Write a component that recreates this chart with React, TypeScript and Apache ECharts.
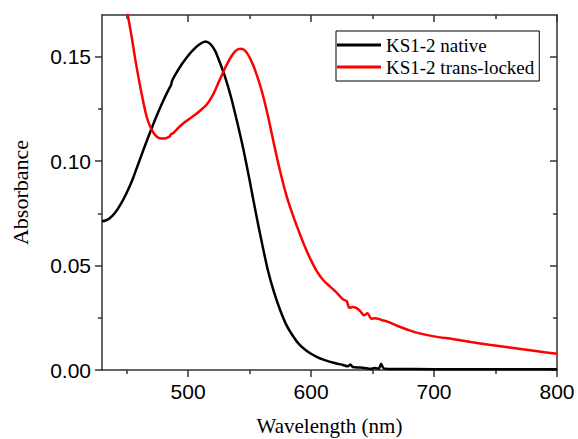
import React, { useEffect, useRef } from "react";
import * as echarts from "echarts";

const nativeX = [430, 433, 436, 440, 445, 450, 455, 460, 465, 470, 475, 480, 485, 486, 487, 490, 495, 500, 505, 510, 514, 518, 522, 526, 530, 535, 540, 545, 550, 555, 560, 565, 570, 575, 580, 585, 590, 595, 600, 605, 610, 620, 626, 630, 632, 634, 640, 645, 648, 652, 655, 657, 659, 665, 700, 800];
const nativeY = [0.0712, 0.0716, 0.0726, 0.0748, 0.0792, 0.0848, 0.0915, 0.0995, 0.1075, 0.1152, 0.1225, 0.1292, 0.1352, 0.1362, 0.1385, 0.1418, 0.1465, 0.1505, 0.1538, 0.1562, 0.1573, 0.1562, 0.1528, 0.147, 0.1405, 0.1305, 0.1185, 0.1056, 0.091, 0.0755, 0.061, 0.0475, 0.037, 0.0285, 0.0215, 0.0165, 0.0125, 0.0098, 0.0078, 0.0062, 0.005, 0.0032, 0.0024, 0.0018, 0.0026, 0.0014, 0.0012, 0.0008, 0.0005, 0.001, 0.0006, 0.003, 0.0008, 0.0005, 0.0004, 0.0003];

const lockedX = [447, 451, 454, 457, 461, 466, 470, 474, 478, 482, 485, 486, 488, 493, 498, 504, 510, 515, 520, 525, 530, 535, 539, 543, 547, 551, 555, 560, 565, 570, 575, 580, 585, 590, 595, 600, 605, 610, 615, 620, 626, 629, 631, 634, 637, 640, 643, 646, 649, 652, 655, 658, 662, 670, 680, 690, 700, 715, 730, 745, 760, 775, 790, 800];
const lockedY = [0.185, 0.17, 0.16, 0.149, 0.136, 0.122, 0.1155, 0.112, 0.1108, 0.111, 0.1118, 0.1128, 0.1135, 0.1165, 0.119, 0.1215, 0.1243, 0.127, 0.1315, 0.138, 0.1445, 0.15, 0.153, 0.1538, 0.1525, 0.1485, 0.1428, 0.1335, 0.1215, 0.1078, 0.0948, 0.0835, 0.0745, 0.0665, 0.059, 0.0525, 0.047, 0.043, 0.0402, 0.0375, 0.0338, 0.033, 0.0298, 0.0302, 0.0296, 0.0282, 0.0262, 0.0272, 0.0245, 0.0248, 0.0245, 0.0238, 0.0232, 0.0212, 0.019, 0.0173, 0.0161, 0.0148, 0.0134, 0.0121, 0.0109, 0.0097, 0.0085, 0.0078];

const xMajor = [500, 600, 700, 800];
const xMinor = [450, 550, 650, 750];
const yMajor = [0, 0.05, 0.1, 0.15];
const yMinor = [0.025, 0.075, 0.125];

const seriesNames = ["KS1-2 native", "KS1-2 trans-locked"];

const SANS = "'Liberation Sans', Arial, sans-serif";
const SERIF = "'Liberation Serif', 'Times New Roman', serif";
const AX = "#333";

function xAx(pos: string, ticks: number[], len: number, inside: boolean, line: boolean, labels: boolean, extra: any = {}) {
  return {
    type: "value",
    position: pos,
    min: 430,
    max: 800,
    axisLine: { show: line, onZero: false, lineStyle: { color: AX, width: 1.5 } },
    axisTick: { show: true, inside, length: len, customValues: ticks, lineStyle: { color: AX, width: 1.5 } },
    axisLabel: labels
      ? { show: true, customValues: ticks, fontSize: 21, color: "#000", fontFamily: SANS, margin: 11 }
      : { show: false },
    splitLine: { show: false },
    ...extra,
  };
}

function yAx(pos: string, ticks: number[], len: number, inside: boolean, line: boolean, labels: boolean, extra: any = {}) {
  return {
    type: "value",
    position: pos,
    min: 0,
    max: 0.17,
    axisLine: { show: line, onZero: false, lineStyle: { color: AX, width: 1.5 } },
    axisTick: { show: true, inside, length: len, customValues: ticks, lineStyle: { color: AX, width: 1.5 } },
    axisLabel: labels
      ? {
          show: true,
          customValues: ticks,
          fontSize: 21,
          color: "#000",
          fontFamily: SANS,
          margin: 11,
          formatter: (v: number) => v.toFixed(2),
        }
      : { show: false },
    splitLine: { show: false },
    ...extra,
  };
}

export default function App() {
  const ref = useRef<HTMLDivElement>(null);
  useEffect(() => {
    if (!ref.current) return;
    const chart = echarts.init(ref.current, null, { renderer: "svg" });
    chart.setOption({
      animation: false,
      backgroundColor: "#fff",
      grid: { left: 102, right: 21, top: 15, bottom: 69, containLabel: false, outerBoundsMode: "none" },
      legend: {
        orient: "vertical",
        left: 336,
        top: 31,
        data: seriesNames,
        icon: "rect",
        borderColor: "#000",
        borderWidth: 1,
        padding: [4, 5, 4, 1],
        itemGap: 2,
        itemWidth: 44,
        itemHeight: 3,
        textStyle: { fontFamily: SERIF, fontSize: 19, color: "#000", lineHeight: 20 },
      },
      xAxis: [
        xAx("bottom", xMajor, 7, false, true, true, {
          name: "Wavelength (nm)",
          nameLocation: "middle",
          nameGap: 45,
          nameTextStyle: { fontFamily: SERIF, fontSize: 21, color: "#000", lineHeight: 22 },
        }),
        xAx("bottom", xMinor, 4, false, false, false),
        xAx("top", xMajor, 7, true, true, false),
        xAx("top", xMinor, 4, true, false, false),
      ],
      yAxis: [
        yAx("left", yMajor, 7, false, true, true, {
          name: "Absorbance",
          nameLocation: "middle",
          nameGap: 71,
          nameTextStyle: { fontFamily: SERIF, fontSize: 22, color: "#000" },
        }),
        yAx("left", yMinor, 4, false, false, false),
        yAx("right", yMajor, 7, true, true, false),
        yAx("right", yMinor, 4, true, false, false),
      ],
      series: [
        {
          name: seriesNames[0],
          type: "line",
          xAxisIndex: 0,
          yAxisIndex: 0,
          data: nativeX.map((x, i) => [x, nativeY[i]]),
          symbol: "none",
          smooth: 0.25,
          clip: true,
          lineStyle: { color: "#000", width: 2.5 },
          itemStyle: { color: "#000" },
        },
        {
          name: seriesNames[1],
          type: "line",
          xAxisIndex: 0,
          yAxisIndex: 0,
          data: lockedX.map((x, i) => [x, lockedY[i]]),
          symbol: "none",
          smooth: 0.25,
          clip: true,
          lineStyle: { color: "#ff0000", width: 2.5 },
          itemStyle: { color: "#ff0000" },
        },
      ],
    });
    return () => chart.dispose();
  }, []);
  return <div ref={ref} style={{ width: 578, height: 439, position: "absolute", left: 0, top: 0 }} />;
}
